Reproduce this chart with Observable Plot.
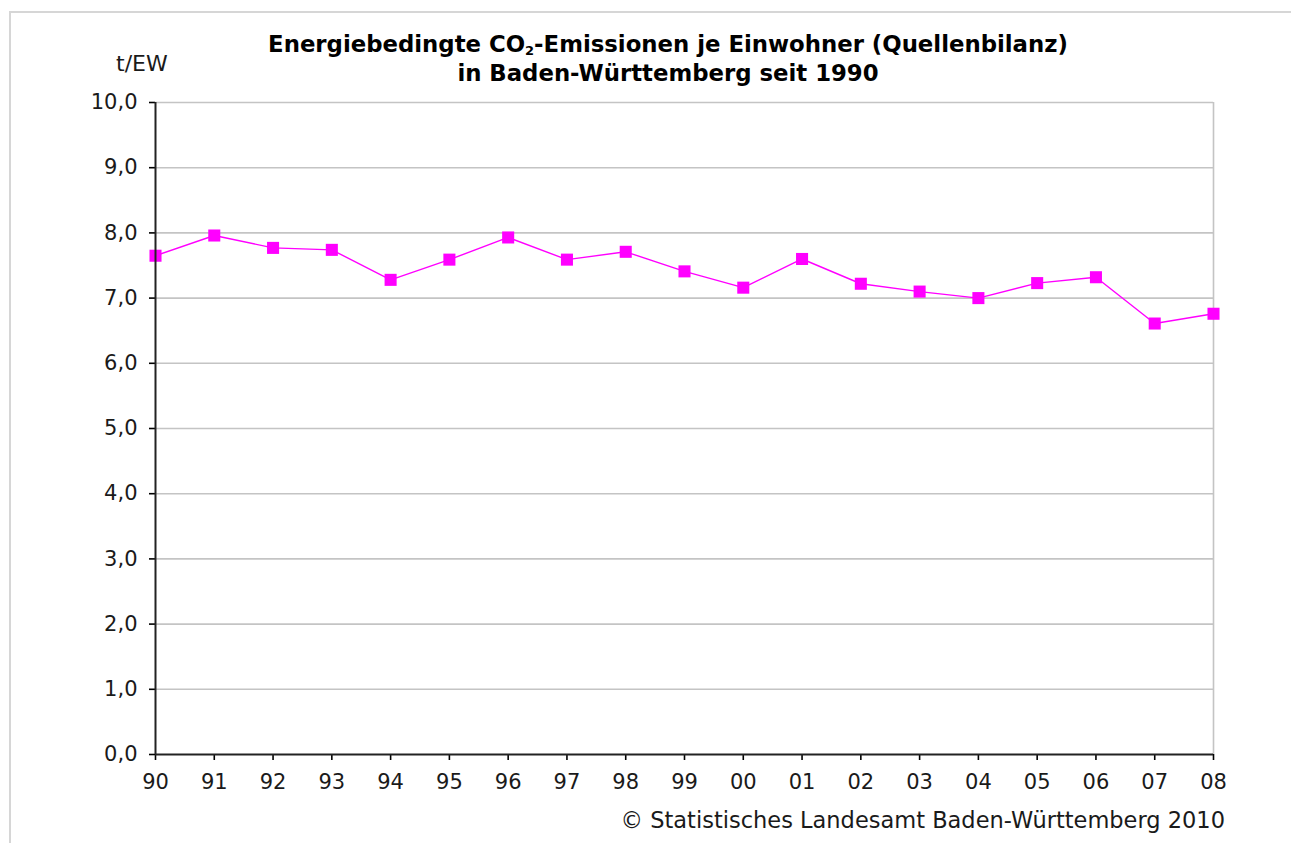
<!DOCTYPE html>
<html>
<head>
<meta charset="utf-8">
<script src="https://cdn.jsdelivr.net/npm/d3@7"></script>
<script src="https://cdn.jsdelivr.net/npm/@observablehq/plot@0.6"></script>
<style>
  html, body { margin: 0; padding: 0; background: #fff; }
  #wrap { position: relative; width: 1293px; height: 843px; overflow: hidden; font-family: "DejaVu Sans", Verdana, sans-serif; color: #1a1a1a; }
  #border { position: absolute; left: 9px; top: 11px; width: 1282px; height: 900px; border-top: 2px solid #d6d6d6; border-left: 2px solid #d6d6d6; box-sizing: border-box; }
  #header { position: relative; height: 90px; }
  #title { position: absolute; left: 0; width: 1336px; top: 29.6px; text-align: center; font-weight: bold; font-size: 22.8px; line-height: 29px; color: #000; }
  #title sub { font-size: 13px; vertical-align: -3px; line-height: 0; }
  #unit { position: absolute; left: 116px; top: 53px; font-size: 22px; line-height: 22px; }
  #chart svg { display: block; }
  #footer { height: 38px; box-sizing: border-box; padding-top: 4px; padding-right: 68px; text-align: right; font-size: 22.5px; line-height: 22.5px; white-space: nowrap; }
</style>
</head>
<body>
<div id="wrap">
  <div id="border"></div>
  <div id="header">
    <div id="title">Energiebedingte CO<sub>2</sub>-Emissionen je Einwohner (Quellenbilanz)<br>in Baden-Württemberg seit 1990</div>
    <div id="unit">t/EW</div>
  </div>
  <div id="chart"></div>
  <div id="footer">© Statistisches Landesamt Baden-Württemberg 2010</div>
</div>
<script>
const years = ["90","91","92","93","94","95","96","97","98","99","00","01","02","03","04","05","06","07","08"];
const emissions = [7.65, 7.96, 7.77, 7.74, 7.28, 7.59, 7.93, 7.59, 7.71, 7.41, 7.16, 7.60, 7.22, 7.10, 7.00, 7.23, 7.32, 6.61, 6.76];
const yTicks = [0, 1, 2, 3, 4, 5, 6, 7, 8, 9, 10];

const data = years.map((y, i) => ({year: y, value: emissions[i]}));
const fmt = d => d.toFixed(1).replace(".", ",");

const chart = Plot.plot({
  width: 1293,
  height: 715,
  marginLeft: 155,
  marginRight: 80,
  marginTop: 12,
  marginBottom: 51,
  style: {fontFamily: "'DejaVu Sans', Verdana, sans-serif", fontSize: "21px", background: "transparent", color: "#1a1a1a", overflow: "visible"},
  x: {type: "point", domain: years, padding: 0, round: false},
  y: {domain: [0, 10]},
  marks: [
    Plot.gridY(yTicks.filter(d => d > 0), {stroke: "#c4c4c4", strokeOpacity: 1, strokeWidth: 1.6}),
    Plot.ruleX([years[years.length - 1]], {stroke: "#c4c4c4", strokeWidth: 1.6}),
    Plot.line(data, {x: "year", y: "value", stroke: "#ff00ff", strokeWidth: 1.4}),
    Plot.dot(data, {x: "year", y: "value", symbol: "square", fill: "#ff00ff", r: 6.8}),
    Plot.axisY(yTicks, {tickFormat: fmt, tickSize: 6, tickPadding: 12, stroke: "#000", strokeWidth: 1.6, label: null}),
    Plot.axisX({tickSize: 6, tickPadding: 14, stroke: "#000", strokeWidth: 1.6, label: null}),
    Plot.ruleX([years[0]], {stroke: "#222", strokeWidth: 2}),
    Plot.ruleY([0], {stroke: "#222", strokeWidth: 2})
  ]
});
document.getElementById("chart").appendChild(chart);
</script>
</body>
</html>
